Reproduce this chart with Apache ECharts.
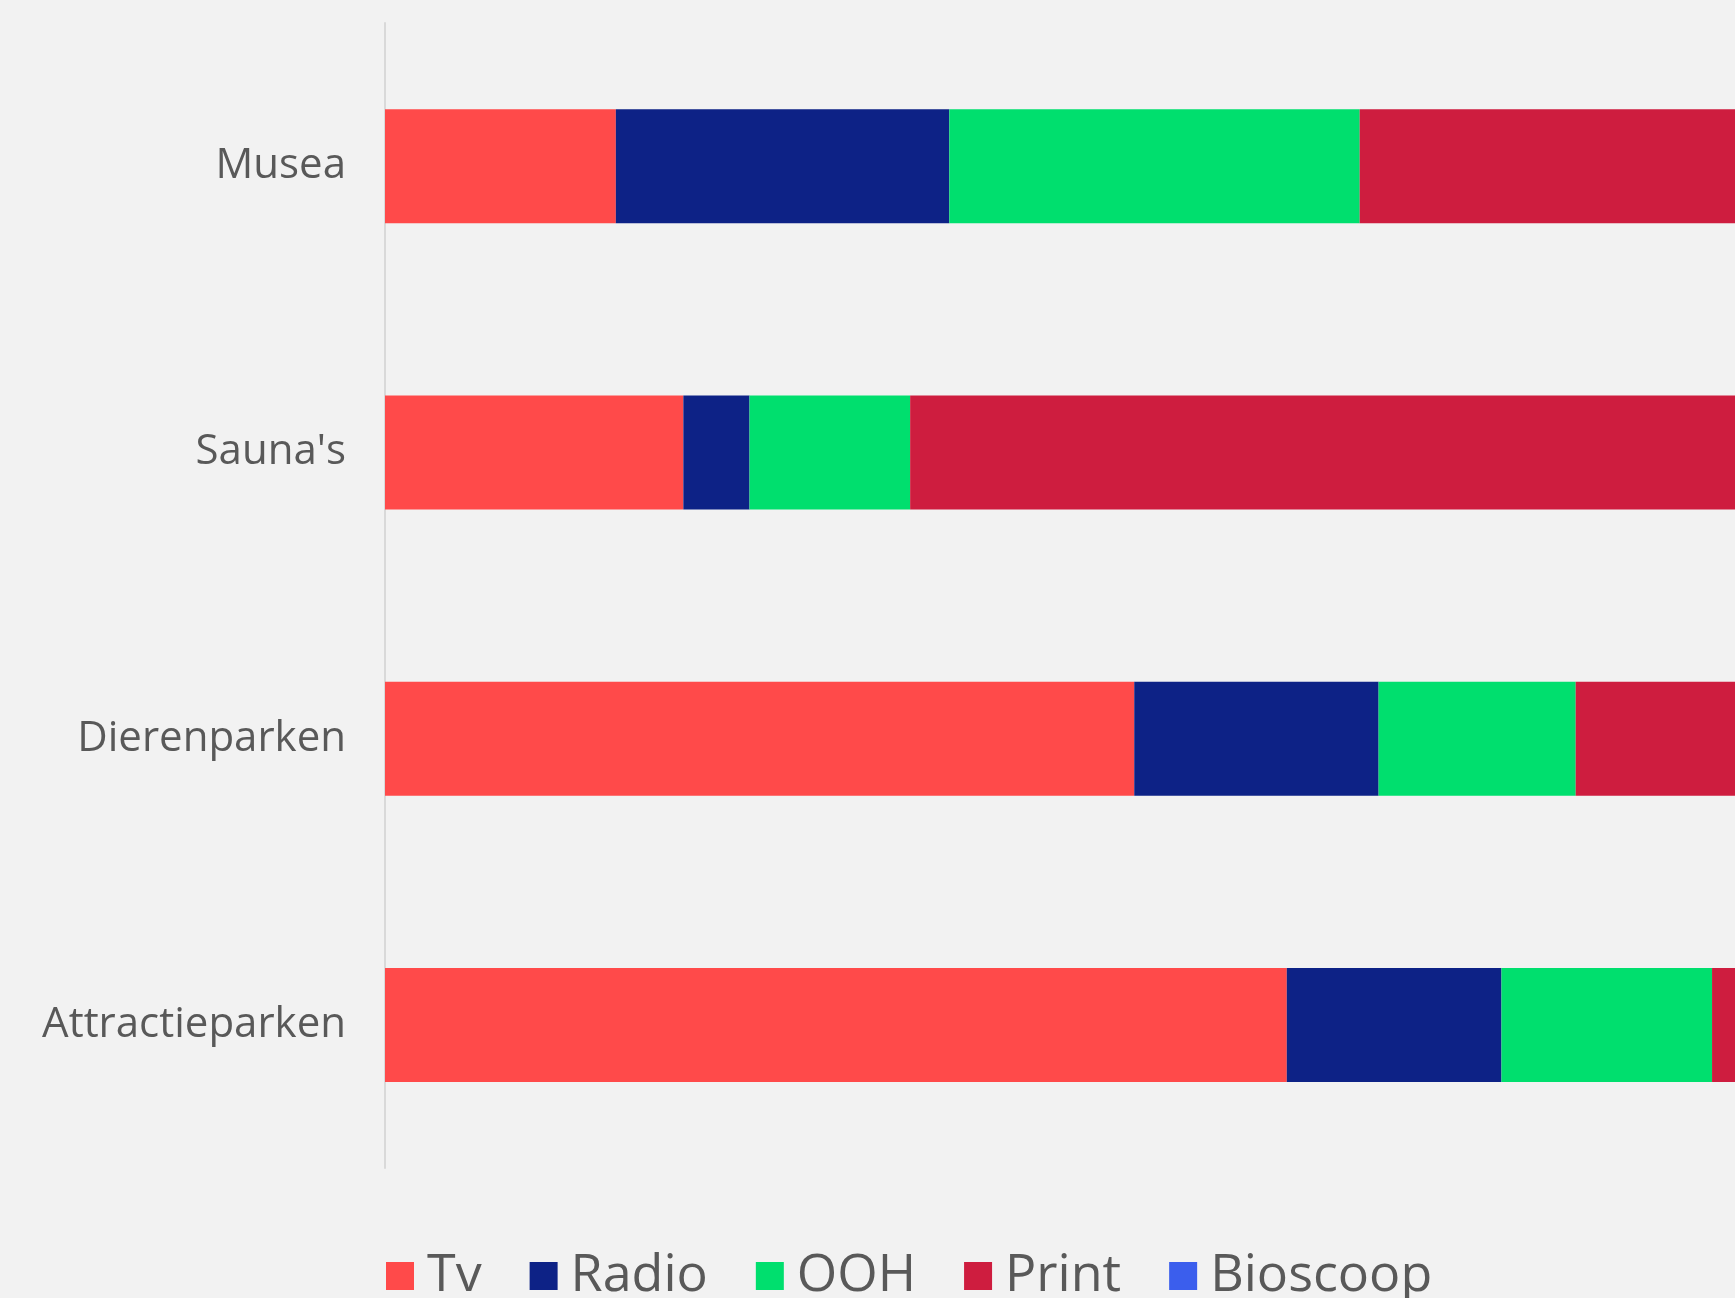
<!DOCTYPE html>
<html>
<head>
<meta charset="utf-8">
<script src="https://cdn.jsdelivr.net/npm/echarts@6/dist/echarts.min.js"></script>
<style>
  html, body { margin: 0; padding: 0; background: #f2f2f2; }
  #chart { width: 1735px; height: 1298px; }
</style>
</head>
<body>
<div id="chart"></div>
<script>
// Sectors, top to bottom
const categories = ['Musea', "Sauna's", 'Dierenparken', 'Attractieparken'];

// Share per medium (visible part of the stacked bars)
const tv       = [17.1, 22.1, 55.5, 66.8];
const radio    = [24.7, 4.9, 18.1, 15.9];
const ooh      = [30.4, 11.9, 14.6, 15.6];
const print    = [40, 70, 20, 10];
const bioscoop = [0, 0, 0, 0];

const seriesNames = ['Tv', 'Radio', 'OOH', 'Print', 'Bioscoop'];
const seriesData = [tv, radio, ooh, print, bioscoop];
const colors = ['#FF4A4A', '#0D2286', '#00DF6E', '#CE1D3F', '#3B5EED'];

const chart = echarts.init(document.getElementById('chart'), null, { renderer: 'canvas' });

chart.setOption({
  backgroundColor: '#f2f2f2',
  animation: false,
  color: colors,
  grid: { left: 385, right: 0, top: 23, bottom: 130, containLabel: false },
  legend: {
    left: 381,
    top: 1243,
    icon: 'rect',
    itemWidth: 28,
    itemHeight: 28,
    itemGap: 48,
    textStyle: { fontFamily: 'Open Sans', fontSize: 52, color: '#595959', lineHeight: 56, padding: [0, 0, 0, 8] },
    data: seriesNames
  },
  xAxis: {
    type: 'value',
    min: 0,
    max: 100,
    show: false
  },
  yAxis: {
    type: 'category',
    inverse: true,
    data: categories,
    axisLine: { show: true, lineStyle: { color: '#d9d9d9', width: 2 } },
    axisTick: { show: false },
    axisLabel: { margin: 39, fontFamily: 'Open Sans', fontSize: 42, color: '#595959' }
  },
  series: seriesNames.map((name, i) => ({
    name,
    type: 'bar',
    stack: 'total',
    barWidth: 114,
    clip: true,
    data: seriesData[i]
  }))
});
</script>
</body>
</html>
